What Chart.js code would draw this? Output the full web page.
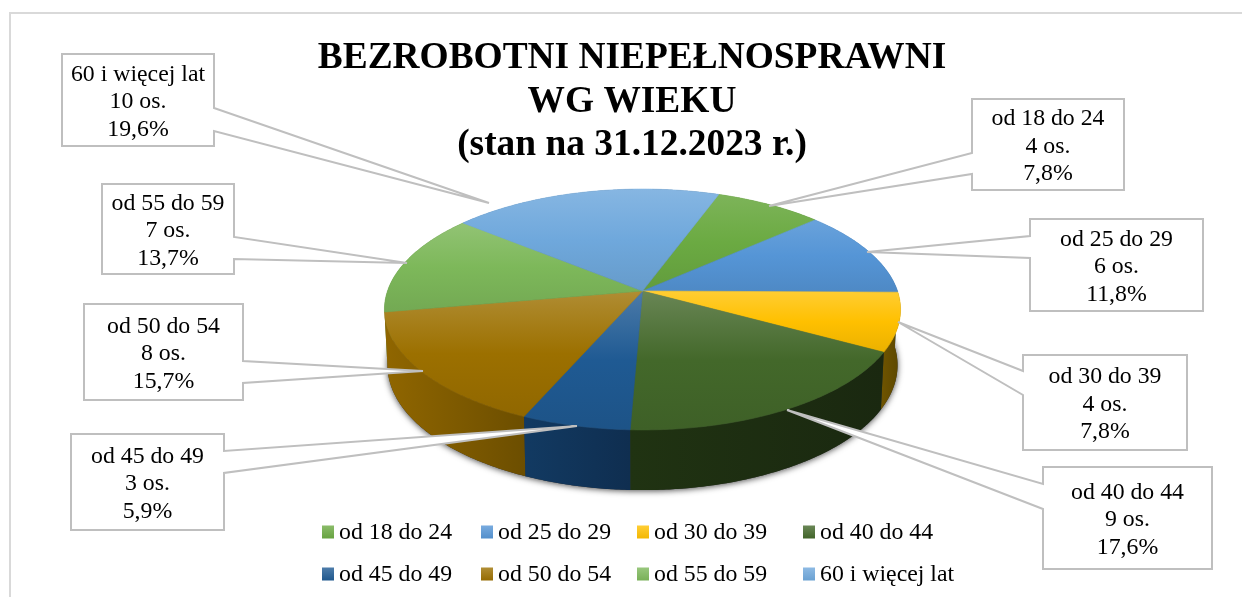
<!DOCTYPE html>
<html lang="pl">
<head>
<meta charset="utf-8">
<title>Bezrobotni niepełnosprawni wg wieku</title>
<style>
html,body{margin:0;padding:0;background:#fff;overflow:hidden}
canvas{display:block}
</style>
<script src="https://cdn.jsdelivr.net/npm/chart.js@4/dist/chart.umd.min.js"></script>
</head>
<body>
<canvas id="c" width="1242" height="597"></canvas>
<script>
// ---- data ----
const categories = ['od 18 do 24','od 25 do 29','od 30 do 39','od 40 do 44','od 45 do 49','od 50 do 54','od 55 do 59','60 i więcej lat'];
const persons = [4, 6, 4, 9, 3, 8, 7, 10];
const percentLabels = ['7,8%','11,8%','7,8%','17,6%','5,9%','15,7%','13,7%','19,6%'];
const titleLines = ['BEZROBOTNI NIEPEŁNOSPRAWNI','WG WIEKU','(stan na 31.12.2023 r.)'];

// ---- styles ----
const sliceColors = ['#6BAA42','#5595D6','#FFC000','#43682A','#1F5A93','#9C7000','#7DB85A','#6FA8DC'];
const topLight = [0.12,0.12,0.2,0.2,0.2,0.2,0.16,0.16];
const wallColors = [['#4a7a2c','#3c6322'],['#3d6d99','#2f5a80'],['#705500','#5a4600'],['#203312','#1a2810'],
                    ['#123a62','#0f2e50'],['#906600','#6c4e00'],['#557d3c','#466832'],['#4a7298','#3c6080']];
const FONT = '"Liberation Serif","Times New Roman",serif';
const LINE = '#bfbfbf';
const LABEL_FONT = '23.8px ' + FONT;

// perspective of the disc: x,y are unit-disc coordinates, y grows toward the viewer
const topFace    = {cx:642.5, cy:291, rx:255, ry:117.6, k:0.1535};
const bottomFace = {cx:642.5, cy:346, rx:252, ry:122,   k:0.1535};
function project(f, a){
  const x = Math.cos(a), y = Math.sin(a), w = 1 - f.k*y;
  return [f.cx + f.rx*x/w, f.cy + f.ry*y/w];
}
function mix(hex, target, t){
  const n = parseInt(hex.slice(1),16), c = [n>>16,(n>>8)&255,n&255];
  return 'rgb(' + c.map(v => Math.round(v+(target-v)*t)).join(',') + ')';
}
function sweep(a0,a1){ const n = Math.max(2,Math.ceil((a1-a0)/0.01)), o=[]; for(let i=0;i<=n;i++) o.push(a0+(a1-a0)*i/n); return o; }

// callout boxes: [left, top, right, bottom], wedge base points on box side, wedge tip
const callouts = [
  {box:[972,99,1124,190],  side:'l', base:[153,174], tip:[769,206]},
  {box:[1030,219,1203,311],side:'l', base:[236,258], tip:[867,252]},
  {box:[1023,355,1187,450],side:'l', base:[371,395], tip:[898,322]},
  {box:[1043,467,1212,569],side:'l', base:[484,509], tip:[787,410]},
  {box:[71,434,224,530],   side:'r', base:[451,473], tip:[577,426]},
  {box:[84,304,243,400],   side:'r', base:[361,383], tip:[423,371]},
  {box:[102,184,234,274],  side:'r', base:[237,259], tip:[407,263]},
  {box:[62,54,214,146],    side:'r', base:[108,131], tip:[489,203]}
];
const legendCols = [322,481,637,803], legendRows = [532,574];

const pie3d = {
  id:'pie3d',
  beforeDatasetsDraw(chart){
    const ctx = chart.ctx, arcs = chart.getDatasetMeta(0).data;
    const colors = chart.data.datasets[0].backgroundColor;
    ctx.save();
    // frame
    ctx.strokeStyle='#d9d9d9'; ctx.lineWidth=2;
    ctx.beginPath(); ctx.moveTo(10,597); ctx.lineTo(10,13); ctx.lineTo(1242,13); ctx.stroke();

    // soft shadow under the body
    ctx.save();
    ctx.shadowColor='rgba(0,0,0,0.7)'; ctx.shadowBlur=6; ctx.shadowOffsetY=1;
    ctx.fillStyle='#333';
    ctx.beginPath();
    sweep(0,Math.PI*2).forEach((a,i)=>{const p=project(bottomFace,a); i?ctx.lineTo(p[0],p[1]):ctx.moveTo(p[0],p[1]);});
    ctx.closePath(); ctx.fill();
    ctx.restore();

    // walls, back to front
    const order = arcs.map((_,i)=>i).sort((a,b)=>Math.sin((arcs[a].startAngle+arcs[a].endAngle)/2)-Math.sin((arcs[b].startAngle+arcs[b].endAngle)/2));
    order.forEach(i=>{
      const pts = sweep(arcs[i].startAngle, arcs[i].endAngle);
      const t = pts.map(a=>project(topFace,a)), b = pts.map(a=>project(bottomFace,a));
      const xs = t.concat(b).map(p=>p[0]), x0=Math.min(...xs), x1=Math.max(...xs);
      const g = ctx.createLinearGradient(x0,0,x1,0);
      g.addColorStop(0,wallColors[i][0]); g.addColorStop(1,wallColors[i][1]);
      ctx.fillStyle=g;
      ctx.beginPath();
      t.forEach((p,j)=>j?ctx.lineTo(p[0],p[1]):ctx.moveTo(p[0],p[1]));
      b.reverse().forEach(p=>ctx.lineTo(p[0],p[1]));
      ctx.closePath(); ctx.fill();
    });

    // top face
    arcs.forEach((arc,i)=>{
      const pts = sweep(arc.startAngle, arc.endAngle).map(a=>project(topFace,a));
      const ys = pts.map(p=>p[1]).concat(topFace.cy), y0=Math.min(...ys), y1=Math.max(...ys);
      const g = ctx.createLinearGradient(0,y0,0,y1), c=colors[i];
      g.addColorStop(0,mix(c,255,topLight[i])); g.addColorStop(0.5,c); g.addColorStop(1,mix(c,0,0.08));
      ctx.fillStyle=g; ctx.strokeStyle=g; ctx.lineWidth=0.6;
      ctx.beginPath(); ctx.moveTo(topFace.cx,topFace.cy);
      pts.forEach(p=>ctx.lineTo(p[0],p[1]));
      ctx.closePath(); ctx.fill(); ctx.stroke();
    });

    // callouts
    ctx.lineJoin='miter'; ctx.lineWidth=2; ctx.strokeStyle=LINE; ctx.fillStyle='#fff';
    callouts.forEach((c,i)=>{
      const [l,t,r,b]=c.box;
      ctx.fillStyle='#fff';
      ctx.beginPath(); ctx.moveTo(l,t); ctx.lineTo(r,t);
      if(c.side==='r'){ ctx.lineTo(r,c.base[0]); ctx.lineTo(c.tip[0],c.tip[1]); ctx.lineTo(r,c.base[1]); }
      ctx.lineTo(r,b); ctx.lineTo(l,b);
      if(c.side==='l'){ ctx.lineTo(l,c.base[1]); ctx.lineTo(c.tip[0],c.tip[1]); ctx.lineTo(l,c.base[0]); }
      ctx.closePath(); ctx.fill(); ctx.stroke();
      ctx.fillStyle='#000'; ctx.font=LABEL_FONT; ctx.textAlign='center'; ctx.textBaseline='middle';
      const mx=(l+r)/2, my=(t+b)/2+2;
      [categories[i], persons[i]+' os.', percentLabels[i]].forEach((s,j)=>ctx.fillText(s,mx,my+(j-1)*27.5));
    });

    // legend
    ctx.textAlign='left'; ctx.textBaseline='middle'; ctx.font=LABEL_FONT;
    categories.forEach((s,i)=>{
      const x=legendCols[i%4], y=legendRows[Math.floor(i/4)], c=colors[i];
      const g=ctx.createLinearGradient(0,y-6,0,y+7);
      g.addColorStop(0,mix(c,255,0.2)); g.addColorStop(1,mix(c,0,0.05));
      ctx.fillStyle=g; ctx.fillRect(x,y-6.5,12,13);
      ctx.fillStyle='#000'; ctx.fillText(s,x+17,y+1);
    });
    ctx.restore();
    return false;
  }
};

new Chart(document.getElementById('c'),{
  type:'pie',
  data:{labels:categories,datasets:[{data:persons,backgroundColor:sliceColors,borderWidth:0}]},
  plugins:[pie3d],
  options:{
    responsive:false,animation:false,rotation:20,
    layout:{padding:{left:22}},
    events:[],
    plugins:{
      legend:{display:false},
      tooltip:{enabled:false},
      title:{display:true,text:titleLines,color:'#000',
        font:{family:FONT,size:37.4,weight:'bold',lineHeight:1.16},
        padding:{top:37,bottom:0}}
    }
  }
});
</script>
</body>
</html>
